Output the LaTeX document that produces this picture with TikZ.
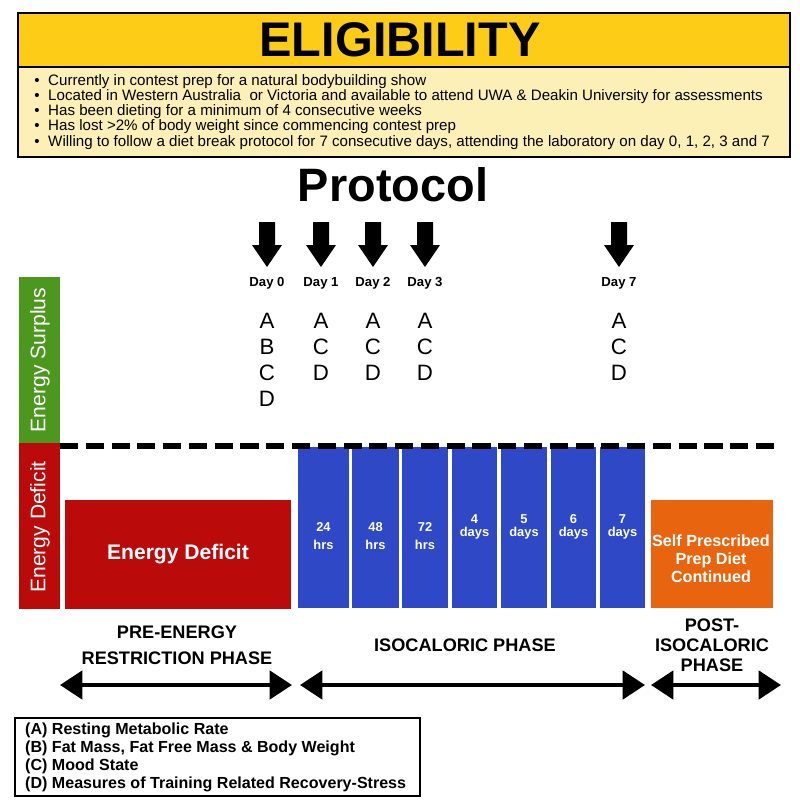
\documentclass[tikz,border=0pt]{standalone}
\usepackage{fontspec}
\setmainfont{Liberation Sans}
\usepackage{tikz}
\usetikzlibrary{arrows.meta, positioning}
\definecolor{myyellow}{RGB}{252, 204, 22}
\definecolor{mycream}{RGB}{253, 240, 182}
\definecolor{mygreen}{RGB}{76, 152, 30}
\definecolor{myred}{RGB}{186, 10, 10}
\definecolor{myblue}{RGB}{46, 72, 198}
\definecolor{myorange}{RGB}{232, 100, 14}
\tikzset{
  crit/.style={inner sep=0pt, font=\fontsize{12.9}{15}\selectfont},
  daylabel/.style={inner sep=0pt, font=\fontsize{11.2}{13}\selectfont\bfseries},
  letters/.style={inner sep=0pt, align=center, font=\fontsize{19}{22.2}\selectfont},
  sidelabel/.style={inner sep=0pt, white, rotate=90, font=\fontsize{18}{20}\selectfont},
  barlabel/.style={inner sep=0pt, white, align=center, font=\fontsize{11}{#1}\selectfont\bfseries},
  phase/.style={inner sep=0pt, align=center, font=\fontsize{15.5}{#1}\selectfont\bfseries},
  phasearrow/.style={line width=3.4pt, {Triangle[length=19pt,width=24pt]}-{Triangle[length=19pt,width=24pt]}},
  keytext/.style={inner sep=0pt, anchor=base west, font=\fontsize{13.7}{15}\selectfont\bfseries}
}

\begin{document}
\begin{tikzpicture}[x=0.03cm,y=-0.03cm]
  \useasboundingbox (0,0) rectangle (800,800);
  % eligibility box
  \fill[mycream](18,67) rectangle (790,157);
  \fill[myyellow](18,13) rectangle (790,67);
  \draw[line width=2.5pt](18,13) rectangle (790,157);
  \draw[line width=1.7pt](18,67)--(790,67);
  \node[font=\fontsize{41.5}{46}\selectfont\bfseries] (title) at (400,40) {ELIGIBILITY};
  \foreach \t [count=\i] in {{Currently in contest prep for a natural bodybuilding show},
      {Located in Western Australia\ \ or Victoria and available to attend UWA \& Deakin University for assessments},
      {Has been dieting for a minimum of 4 consecutive weeks},
      {Has lost >2\% of body weight since commencing contest prep},
      {Willing to follow a diet break protocol for 7 consecutive days, attending the laboratory on day 0, 1, 2, 3 and 7}}{
    \node[crit,anchor=base] (dot\i) at (37,{70+15.2*\i}) {\textbullet};
    \node[crit,anchor=base west] (crit\i) at (48,{70+15.2*\i}) {\t};
  }
  \node[font=\fontsize{40}{44}\selectfont\bfseries] (protocol) at (393,185) {Protocol};
  % testing days
  \foreach \x/\n/\m in {267/0/{A\\B\\C\\D}, 321/1/{A\\C\\D}, 373/2/{A\\C\\D}, 425/3/{A\\C\\D}, 619/7/{A\\C\\D}}{
    \fill(\x-8,222)--(\x+8,222)--(\x+8,245)--(\x+15,245)--(\x,267)--(\x-15,245)--(\x-8,245)--cycle;
    \node[daylabel] (day\n) at (\x,283) {Day \n};
    \node[letters,anchor=north] (meas\n) at (\x,313) {\m};
  }
  % energy axis
  \fill[mygreen](19,277) rectangle (60,443);
  \fill[myred](19,443) rectangle (60,609);
  \node[sidelabel] (surplus) at (40,360) {Energy Surplus};
  \node[sidelabel] (deficitaxis) at (40,527) {Energy Deficit};
  % phases
  \fill[myred](65,500) rectangle (291,609);
  \node[white,font=\fontsize{18}{20}\selectfont\bfseries] (deficit) at (178,554) {Energy Deficit};
  \foreach \a/\b/\n in {298/349/1, 352/399/2, 402/448/3, 452/497/4, 501/547/5, 551/596/6, 600/645/7}
    \fill[myblue](\a,447) rectangle (\b,608);
  \foreach \x/\h in {323.5/24, 375.5/48, 425/72}
    \node[barlabel=15.4] (hrs\h) at (\x,536) {\h\\hrs};
  \foreach \x/\d in {474.5/4, 524/5, 573.5/6, 622.5/7}
    \node[barlabel=11.1] (days\d) at (\x,526.5) {\d\\days};
  \fill[myorange](651,500) rectangle (773,608);
  \node[white,align=center,font=\fontsize{13.8}{15.4}\selectfont\bfseries] (selfdiet) at (711,559)
    {Self Prescribed\\Prep Diet\\Continued};
  \draw[line width=4.5pt,dash pattern=on 15.5pt off 6.5pt](60,446)--(780,446);
  % phase labels
  \node[phase=22.2] (pre) at (177,645) {PRE-ENERGY\\RESTRICTION PHASE};
  \node[phase=17] (iso) at (465,645) {ISOCALORIC PHASE};
  \node[phase=17] (post) at (712,645) {POST-\\ISOCALORIC\\PHASE};
  \coordinate (preL) at (60,685);
  \coordinate (preR) at (292,685);
  \coordinate (isoL) at (300,685);
  \coordinate (isoR) at (645,685);
  \coordinate (postL) at (651,685);
  \coordinate (postR) at (781,685);
  \draw[phasearrow](preL)--(preR);
  \draw[phasearrow](isoL)--(isoR);
  \draw[phasearrow](postL)--(postR);
  % key
  \draw[line width=1.7pt](15,718) rectangle (420,796);
  \foreach \t [count=\i] in {{(A) Resting Metabolic Rate},
      {(B) Fat Mass, Fat Free Mass \& Body Weight},
      {(C) Mood State},
      {(D) Measures of Training Related Recovery-Stress}}
    \node[keytext] (key\i) at (25,{716+18*\i}) {\t};
\end{tikzpicture}
\end{document}
